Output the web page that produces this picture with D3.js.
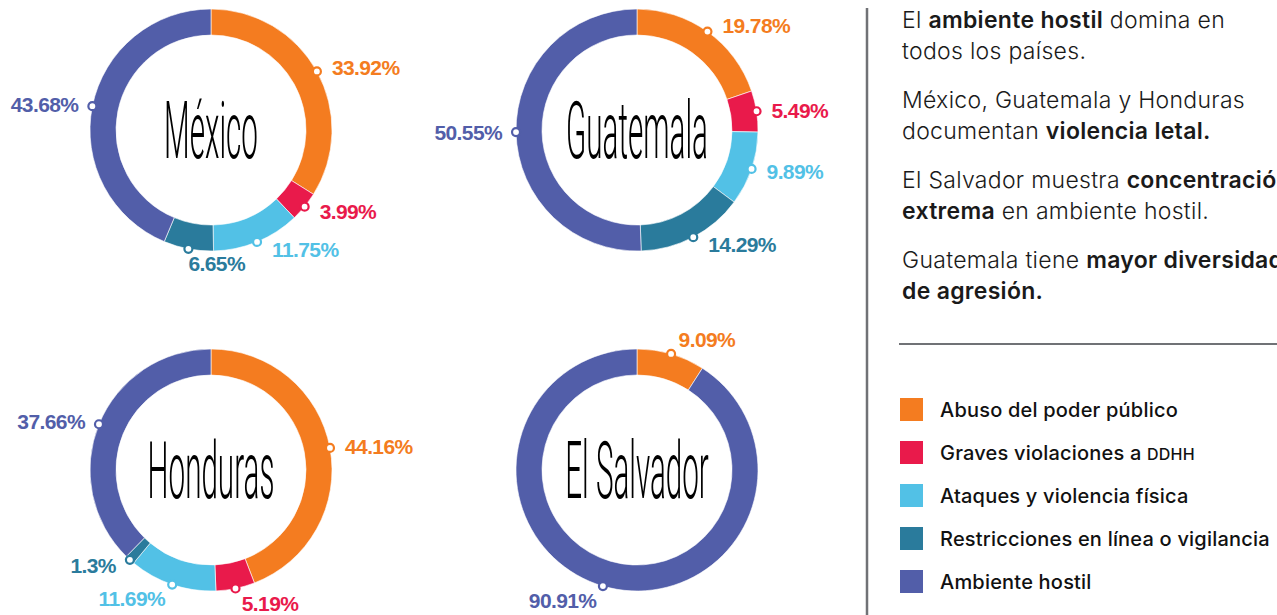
<!DOCTYPE html>
<html>
<head>
<meta charset="utf-8">
<script src="https://cdn.jsdelivr.net/npm/d3@7"></script>
<style>
  html, body { margin: 0; padding: 0; background: #fff; }
  svg { display: block; }
</style>
</head>
<body>
<svg id="chart" width="1277" height="615"></svg>
<script>
// categories (legend order = slice order, clockwise from 12 o'clock)
var categories = ['Abuso del poder público', 'Graves violaciones a DDHH', 'Ataques y violencia física',
                  'Restricciones en línea o vigilancia', 'Ambiente hostil'];
var colors = ['#f47c20', '#e91a4b', '#52c1e6', '#2a7b9c', '#525ea9'];

var countries = ['México', 'Guatemala', 'Honduras', 'El Salvador'];
var mexico     = [33.92, 3.99, 11.75, 6.65, 43.68];
var guatemala  = [19.78, 5.49, 9.89, 14.29, 50.55];
var honduras   = [44.16, 5.19, 11.69, 1.3, 37.66];
var elSalvador = [9.09, 0, 0, 0, 90.91];
var series = [mexico, guatemala, honduras, elSalvador];

// side notes
var notes = [
    [[['El ', 0], ['ambiente hostil', 1], [' domina en', 0]], [['todos los países.', 0]]],
    [[['México, Guatemala y Honduras', 0]], [['documentan ', 0], ['violencia letal.', 1]]],
    [[['El Salvador muestra ', 0], ['concentración', 1]], [['extrema', 1], [' en ambiente hostil.', 0]]],
    [[['Guatemala tiene ', 0], ['mayor diversidad', 1]], [['de agresión.', 1]]]
];

var svg = d3.select('#chart');

var rOuter = 121, rInner = 95;
var colX = d3.scalePoint().domain([0, 1]).range([211, 637]);
var rowY = d3.scalePoint().domain([0, 1]).range([130, 470]);
var color = d3.scaleOrdinal().domain(d3.range(categories.length)).range(colors);

var pie = d3.pie().sort(null).value(function(d) { return d; });
var arc = d3.arc().innerRadius(rInner).outerRadius(rOuter);

for (var i=0; i<countries.length; i++)
{
    var cx = colX(i % 2), cy = rowY(Math.floor(i / 2));
    var g = svg.append('g').attr('transform', 'translate('+cx+','+cy+')');
    var arcs = pie(series[i]).map(function(a, k) { a.k = k; return a; })
                             .filter(function(a) { return a.value > 0; });

    g.selectAll('path.slice').data(arcs).enter().append('path')
        .attr('class', 'slice')
        .attr('d', arc)
        .attr('fill', function(a) { return color(a.k); })
        .attr('stroke', '#fff')
        .attr('stroke-width', 0.6);

    // country name, heavily condensed
    g.append('text')
        .attr('transform', 'scale(0.37,1)')
        .attr('x', 0)
        .attr('y', 28)
        .attr('text-anchor', 'middle')
        .style('font-family', 'Roboto, "Liberation Sans", sans-serif')
        .style('font-weight', 300)
        .style('font-size', '80px')
        .style('fill', '#000')
        .text(countries[i]);

    // markers + percentage labels
    arcs.forEach(function(a)
    {
        var ang = (a.startAngle + a.endAngle) / 2;
        var s = Math.sin(ang), c = Math.cos(ang);
        var mx = s * rOuter, my = -c * rOuter;
        var dx, dy, anchor;
        if (Math.abs(c) > 0.94)
        {
            dx = s * 16 + (s > -0.2 ? 3 : -2); dy = -c * 15;
            anchor = s > -0.2 ? 'start' : 'end';
        }
        else
        {
            dx = (s > 0 ? 15 : -14); dy = -c * 8;
            anchor = s > 0 ? 'start' : 'end';
        }
        g.append('circle')
            .attr('cx', mx).attr('cy', my).attr('r', 4)
            .attr('fill', '#fff')
            .attr('stroke', color(a.k))
            .attr('stroke-width', 2.2);
        g.append('text')
            .attr('x', mx + dx).attr('y', my + dy)
            .attr('dy', '0.36em')
            .attr('text-anchor', anchor)
            .style('font-family', '"Liberation Sans", Arial, sans-serif')
            .style('font-weight', 700)
            .style('font-size', '21px')
            .style('letter-spacing', '-0.6px')
            .style('fill', color(a.k))
            .text(a.value + '%');
    });
}

// divider lines
svg.append('line')
    .attr('x1', 867).attr('y1', 8).attr('x2', 867).attr('y2', 615)
    .attr('stroke', '#707276').attr('stroke-width', 2.5);
svg.append('line')
    .attr('x1', 899).attr('y1', 344).attr('x2', 1277).attr('y2', 344)
    .attr('stroke', '#707276').attr('stroke-width', 2);

// notes (the long lines run off the right edge, as in the original)
var noteX = 902;
for (var p=0; p<notes.length; p++)
{
    for (var l=0; l<notes[p].length; l++)
    {
        var t = svg.append('text')
            .attr('x', noteX)
            .attr('y', 28 + p*80 + l*31)
            .style('font-family', 'Inter, "Noto Sans", sans-serif')
            .style('font-size', '23px')
            .style('letter-spacing', '0.3px')
            .style('fill', '#1a1a1a');
        notes[p][l].forEach(function(run)
        {
            t.append('tspan')
                .style('font-weight', run[1] ? 600 : 300)
                .text(run[0]);
        });
    }
}

// legend
var legY = d3.scaleBand().domain(d3.range(categories.length)).range([398, 613]);
var leg = svg.selectAll('g.leg').data(categories).enter().append('g')
    .attr('class', 'leg')
    .attr('transform', function(d, k) { return 'translate(900,'+legY(k)+')'; });
leg.append('rect')
    .attr('width', 23).attr('height', 23)
    .attr('fill', function(d, k) { return color(k); });
leg.append('text')
    .attr('x', 40).attr('y', 11.5).attr('dy', '0.36em')
    .style('font-family', 'Inter, "Noto Sans", sans-serif')
    .style('font-weight', 450)
    .style('font-size', '20px')
    .style('letter-spacing', '0.2px')
    .style('fill', '#111')
    .each(function(d)
    {
        var el = d3.select(this);
        var m = d.match(/^(.*?)(DDHH)?$/);
        el.append('tspan').text(m[1]);
        if (m[2])
            el.append('tspan').style('font-size', '16px').text(m[2]);
    });
</script>
</body>
</html>
